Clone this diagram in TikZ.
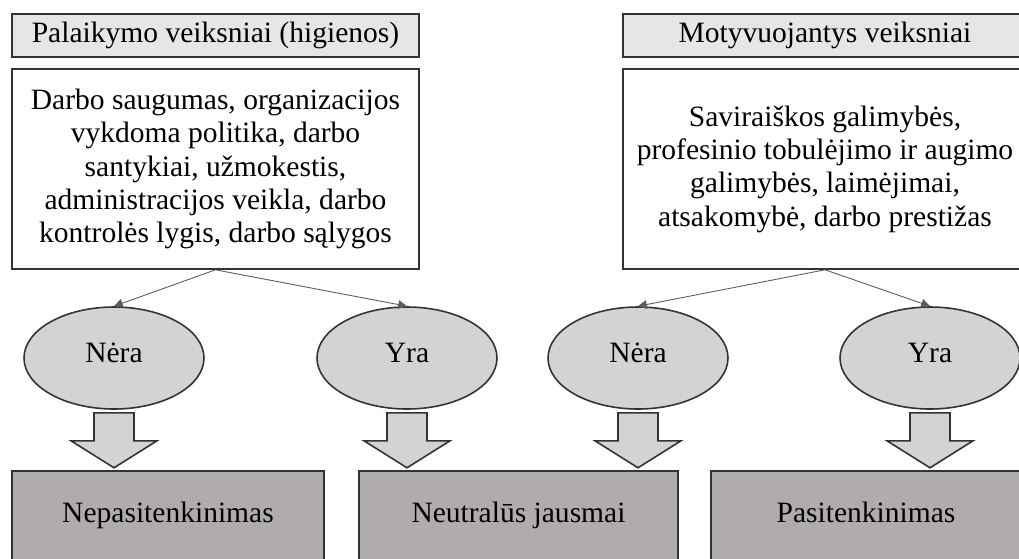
\documentclass[tikz,border=0pt]{standalone}
\usepackage{fontspec}
\setmainfont{Liberation Serif}
\usepackage{tikz}
\usetikzlibrary{arrows.meta}
\usetikzlibrary{backgrounds}
\usetikzlibrary{calc}
\usetikzlibrary{shapes.geometric}
\definecolor{hdrgray}{HTML}{E6E6E6}
\definecolor{ellgray}{HTML}{D4D2D2}
\definecolor{boxgray}{HTML}{B0ACAC}
\definecolor{linegray}{HTML}{333333}

\begin{document}
\begin{tikzpicture}[font=\fontsize{16.8pt}{19pt}\selectfont]
	\useasboundingbox (0,0) rectangle (20.38,-11.16);
	\begin{scope}[every node/.style={rectangle, draw=linegray, line width=0.9pt, inner sep=2pt, align=center}]
		\node[fill=hdrgray, minimum width=8.14cm, minimum height=0.86cm] (h1) at (4.31,-0.71) {Palaikymo veiksniai (higienos)};
		\node[fill=hdrgray, minimum width=8.08cm, minimum height=0.86cm] (h2) at (16.5,-0.71) {Motyvuojantys veiksniai};
		\node[fill=white, minimum width=8.14cm, minimum height=4cm] (t1) at (4.31,-3.38) {Darbo saugumas, organizacijos\\vykdoma politika, darbo\\santykiai, užmokestis,\\administracijos veikla, darbo\\kontrolės lygis, darbo sąlygos};
		\node[fill=white, minimum width=8.08cm, minimum height=4cm] (t2) at (16.5,-3.38) {Saviraiškos galimybės,\\profesinio tobulėjimo ir augimo\\galimybės, laimėjimai,\\atsakomybė, darbo prestižas};
	\end{scope}

	\begin{scope}[every node/.style={ellipse, draw=linegray, line width=0.9pt, fill=ellgray, minimum width=3.6cm, minimum height=2.04cm, inner sep=0pt, text height=0.7em, text depth=0.2em}]
		\node (n1) at (2.28,-7.16) {Nėra};
		\node (y1) at (8.14,-7.16) {Yra};
		\node (n2) at (12.76,-7.16) {Nėra};
		\node (y2) at (18.6,-7.16) {Yra};
	\end{scope}

	\begin{scope}[every node/.style={rectangle, draw=linegray, line width=0.9pt, fill=boxgray, anchor=north, minimum height=1.9cm, text height=0.7em, text depth=0.2em}]
		\node[minimum width=6.24cm] (r1) at (3.36,-9.4) {Nepasitenkinimas};
		\node[minimum width=6.38cm] (r2) at (10.37,-9.4) {Neutralūs jausmai};
		\node[minimum width=6.2cm] (r3) at (17.32,-9.4) {Pasitenkinimas};
	\end{scope}

	\begin{scope}[>={Triangle[length=5pt, width=5pt]},
	              every edge/.style={draw=linegray!80, line width=0.5pt, ->}]
		\path (t1.south) edge (n1.north);
		\path (t1.south) edge (y1.north);
		\path (t2.south) edge (n2.north);
		\path (t2.south) edge (y2.north);
	\end{scope}

	% block arrows
	\foreach \e in {n1, y1, n2, y2}
		\draw[draw=linegray, line width=0.9pt, fill=ellgray, line join=miter]
			($(\e.south)+(-0.4,-0.06)$) -- ++(0,-0.56) -- ++(-0.46,0)
			-- ($(\e.south)+(0,-1.16)$) -- ++(0.86,0.54) -- ++(-0.46,0)
			-- ($(\e.south)+(0.4,-0.06)$) -- cycle;
\end{tikzpicture}
\end{document}
